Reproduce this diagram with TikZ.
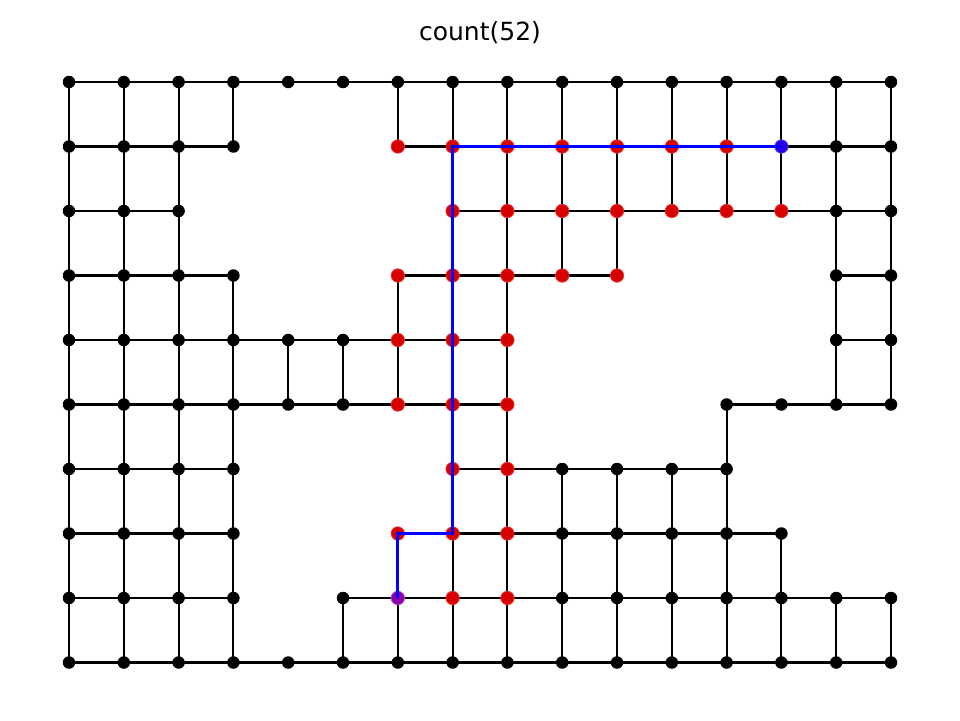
\documentclass[tikz,border=0pt]{standalone}
\usepackage{fontspec}
\setmainfont{DejaVu Sans}
\pgfdeclarelayer{bg}
\pgfsetlayers{bg,main}
\definecolor{vred}{RGB}{215,0,0}
\definecolor{vredline}{RGB}{235,60,60}
\definecolor{vstart}{RGB}{40,0,230}
\definecolor{vend}{RGB}{140,0,170}
\definecolor{pblue}{RGB}{0,0,255}
\begin{document}
\begin{tikzpicture}[x=1pt,y=-1pt,
  vtx/.style={circle,fill=black,inner sep=0pt,minimum size=12.5pt},
  vis/.style={circle,fill=vred,draw=vredline,line width=0.7pt,inner sep=0pt,minimum size=13.5pt},
  vstartnode/.style={circle,fill=vstart,draw=vstart!70!white,line width=0.7pt,inner sep=0pt,minimum size=13.5pt},
  vendnode/.style={circle,fill=vend,draw=vend!70!white,line width=0.7pt,inner sep=0pt,minimum size=13.5pt},
  gedge/.style={line width=2.1pt,black},
  pathedge/.style={line width=3pt,pblue,line join=miter}]
\useasboundingbox (0,0) rectangle (960,720);
\node[font=\fontsize{25}{30}\selectfont] (title) at (480,33) {count(52)};
% black vertices
\foreach \r/\cols in {
  0/{0,1,2,3,4,5,6,7,8,9,10,11,12,13,14,15},
  1/{0,1,2,3,14,15},
  2/{0,1,2,14,15},
  3/{0,1,2,3,14,15},
  4/{0,1,2,3,4,5,14,15},
  5/{0,1,2,3,4,5,12,13,14,15},
  6/{0,1,2,3,9,10,11,12},
  7/{0,1,2,3,9,10,11,12,13},
  8/{0,1,2,3,5,9,10,11,12,13,14,15},
  9/{0,1,2,3,4,5,6,7,8,9,10,11,12,13,14,15}}{
  \foreach \c in \cols {
    \node[vtx] (n-\r-\c) at ({69+54.8*\c},{82+64.5*\r}) {};
  }
}
% visited vertices
\foreach \r/\cols in {
  1/{6,7,8,9,10,11,12},
  2/{7,8,9,10,11,12,13},
  3/{6,7,8,9,10},
  4/{6,7,8},
  5/{6,7,8},
  6/{7,8},
  7/{6,7,8},
  8/{7,8}}{
  \foreach \c in \cols {
    \node[vis] (n-\r-\c) at ({69+54.8*\c},{82+64.5*\r}) {};
  }
}
\node[vstartnode] (n-1-13) at ({69+54.8*13},{82+64.5*1}) {};
\node[vendnode] (n-8-6) at ({69+54.8*6},{82+64.5*8}) {};
% edges
\begin{pgfonlayer}{bg}
\foreach \r/\a/\e in {0/0/14,1/0/2,1/6/14,2/0/1,2/7/14,3/0/2,3/6/9,3/14/14,
  4/0/7,4/14/14,5/0/7,5/12/14,6/0/2,6/7/11,7/0/2,7/6/12,8/0/2,8/5/14,9/0/14}{
  \foreach \c [evaluate=\c as \d using int(\c+1)] in {\a,...,\e} {
    \draw[gedge] (n-\r-\c.center) -- (n-\r-\d.center);
  }
}
\foreach \r/\cols in {
  0/{0,1,2,3,6,7,8,9,10,11,12,13,14,15},
  1/{0,1,2,7,8,9,10,11,12,13,14,15},
  2/{0,1,2,7,8,9,10,14,15},
  3/{0,1,2,3,6,7,8,14,15},
  4/{0,1,2,3,4,5,6,7,8,14,15},
  5/{0,1,2,3,7,8,12},
  6/{0,1,2,3,7,8,9,10,11,12},
  7/{0,1,2,3,6,7,8,9,10,11,12,13},
  8/{0,1,2,3,5,6,7,8,9,10,11,12,13,14,15}}{
  \pgfmathtruncatemacro{\s}{\r+1}
  \foreach \c in \cols {
    \draw[gedge] (n-\r-\c.center) -- (n-\s-\c.center);
  }
}
\end{pgfonlayer}
% found path
\draw[pathedge] (n-1-13.center) -- (n-1-7.center) -- (n-7-7.center) -- (n-7-6.center) -- (n-8-6.center);
\end{tikzpicture}
\end{document}
